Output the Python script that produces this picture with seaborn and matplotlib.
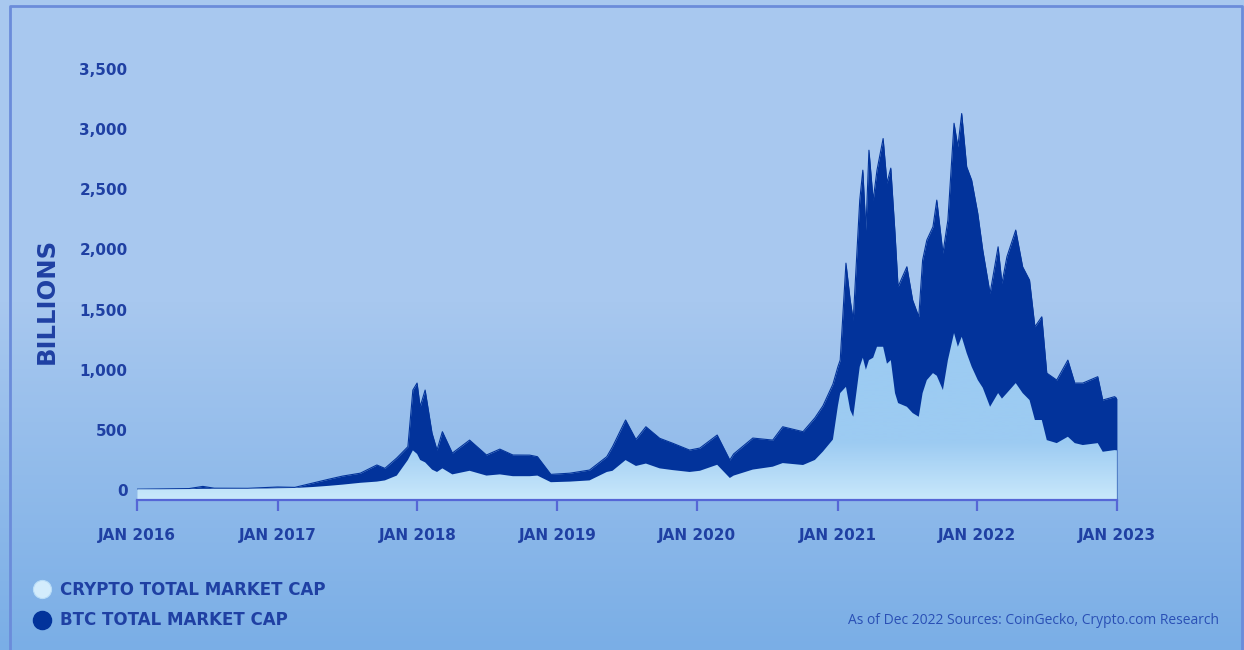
import numpy as np
import pandas as pd
import matplotlib
matplotlib.use("Agg")
import matplotlib.pyplot as plt
import matplotlib.dates as mdates
from matplotlib.colors import LinearSegmentedColormap
from matplotlib.patches import PathPatch
import seaborn as sns

# values in billions
dates = [
    "2016-01-01", "2016-03-01", "2016-05-15", "2016-06-20", "2016-07-20", "2016-10-15",
    "2017-01-01", "2017-02-15", "2017-04-03", "2017-05-15", "2017-06-20", "2017-08-05",
    "2017-09-17", "2017-10-08", "2017-11-08", "2017-12-07", "2017-12-20", "2017-12-31",
    "2018-01-08", "2018-01-21", "2018-02-08", "2018-02-21", "2018-03-07", "2018-04-02",
    "2018-05-17", "2018-06-30", "2018-08-04", "2018-09-07", "2018-10-21", "2018-11-10",
    "2018-12-15", "2019-02-03", "2019-03-26", "2019-05-10", "2019-05-25", "2019-06-28",
    "2019-07-25", "2019-08-20", "2019-09-25", "2019-10-28", "2019-12-12", "2020-01-08",
    "2020-02-22", "2020-03-26", "2020-04-05", "2020-05-25", "2020-07-16", "2020-08-11",
    "2020-10-03", "2020-11-03", "2020-11-24", "2020-12-20", "2021-01-02", "2021-01-08",
    "2021-01-23", "2021-02-03", "2021-02-11", "2021-02-28", "2021-03-08", "2021-03-16",
    "2021-03-24", "2021-04-04", "2021-04-14", "2021-04-30", "2021-05-10", "2021-05-20",
    "2021-05-31", "2021-06-08", "2021-07-01", "2021-07-16", "2021-08-01", "2021-08-11",
    "2021-08-22", "2021-09-07", "2021-09-17", "2021-10-03", "2021-10-16", "2021-11-01",
    "2021-11-11", "2021-11-21", "2021-12-04", "2021-12-17", "2022-01-02", "2022-01-15",
    "2022-02-03", "2022-02-24", "2022-03-06", "2022-03-19", "2022-04-11", "2022-04-29",
    "2022-05-17", "2022-05-31", "2022-06-18", "2022-07-01", "2022-07-27", "2022-08-25",
    "2022-09-12", "2022-10-03", "2022-11-11", "2022-11-24", "2022-12-25", "2022-12-31",
]
# top edge of the dark band
dark_top = [
    7, 9, 12, 30, 15, 14,
    25, 22, 58, 90, 116, 140,
    208, 180, 266, 360, 831, 889,
    692, 831, 473, 332, 485, 307,
    415, 291, 340, 291, 290, 277,
    130, 140, 166, 277, 360, 582,
    420, 526, 430, 390, 332, 349,
    457, 249, 300, 432, 415, 526,
    485, 600, 700, 880, 1025, 1080,
    1886, 1579, 1413, 2410, 2659, 2160,
    2825, 2410, 2659, 2922, 2551, 2676,
    2136, 1690, 1856, 1579, 1440, 1911,
    2078, 2188, 2410, 1969, 2244, 3049,
    2853, 3130, 2687, 2576, 2299, 1994,
    1634, 2022, 1718, 1939, 2161, 1856,
    1745, 1357, 1440, 972, 914, 1080,
    889, 889, 942, 748, 776, 760,
]
# top edge of the light area
light_top = [
    6, 6, 8, 10, 10, 10,
    15, 17, 25, 35, 45, 60,
    70, 80, 120, 250, 330, 300,
    250, 230, 170, 150, 180, 130,
    160, 120, 130, 115, 115, 120,
    65, 70, 80, 150, 160, 249,
    200, 220, 180, 166, 150, 160,
    210, 100, 120, 170, 194, 224,
    208, 250, 320, 420, 700, 806,
    858, 665, 609, 1025, 1100, 1000,
    1080, 1100, 1191, 1191, 1050, 1080,
    806, 723, 692, 640, 609, 806,
    914, 972, 950, 831, 1080, 1305,
    1191, 1274, 1138, 1025, 914, 850,
    692, 806, 760, 806, 889, 806,
    748, 582, 582, 415, 390, 443,
    390, 374, 390, 318, 332, 330,
]

year_ticks = ["2016-01-01", "2017-01-01", "2018-01-01", "2019-01-01",
              "2020-01-01", "2021-01-01", "2022-01-01", "2023-01-01"]
year_labels = ["JAN 2016", "JAN 2017", "JAN 2018", "JAN 2019",
               "JAN 2020", "JAN 2021", "JAN 2022", "JAN 2023"]
y_ticks = [0, 500, 1000, 1500, 2000, 2500, 3000, 3500]
legend_labels = ["CRYPTO TOTAL MARKET CAP", "BTC TOTAL MARKET CAP"]

df = pd.DataFrame({"date": pd.to_datetime(dates), "dark": dark_top, "light": light_top})

sns.set_theme(style="white")
plt.rcParams["font.family"] = ["DejaVu Sans"]

dark = "#02339b"
text_col = "#1f40a3"
axis_col = "#5566d6"
ybot, ytop = -83, 3575

fig = plt.figure(figsize=(12.44, 6.5), dpi=100)

# background in pixel coordinates
bg = fig.add_axes([0, 0, 1, 1], zorder=0)
bg.set_xlim(0, 1244)
bg.set_ylim(650, 0)
bg.axis("off")
grad = np.concatenate([np.zeros(300), np.linspace(0, 1, 350)])[:, None]
bg_cmap = LinearSegmentedColormap.from_list("bg", ["#a8c8ef", "#7aaee6"])
bg.imshow(grad, cmap=bg_cmap, extent=[0, 1244, 650, 0], aspect="auto")
bg.plot([10, 10, 1242, 1242], [660, 6, 6, 660], color="#6b8cda", lw=2)

# main chart
ax = fig.add_axes([137.3 / 1244, 1 - 500 / 650, 980 / 1244, 440 / 650], zorder=1)
ax.patch.set_alpha(0)

ax.fill_between(df["date"], ybot, df["dark"], color=dark, lw=0, zorder=2)
sns.lineplot(data=df, x="date", y="dark", color=dark, lw=0.8, ax=ax, zorder=2)

poly = ax.fill_between(df["date"], ybot, df["light"], color="none", lw=0)
clip = PathPatch(poly.get_paths()[0], transform=ax.transData, facecolor="none", edgecolor="none")
ax.add_patch(clip)
x0 = mdates.date2num(pd.Timestamp("2016-01-01"))
x1 = mdates.date2num(pd.Timestamp("2023-01-01"))
v = np.linspace(1400, ybot, 200)
t = np.clip((400 - v) / (400 - ybot), 0, 1)[:, None]
light_cmap = LinearSegmentedColormap.from_list("light", ["#9ccbf2", "#c9e8fb"])
im = ax.imshow(t, cmap=light_cmap, extent=[x0, x1, ybot, 1400], aspect="auto", zorder=3)
im.set_clip_path(clip)

ax.set_xlim(pd.Timestamp("2016-01-01"), pd.Timestamp("2023-01-01"))
ax.set_ylim(ybot, ytop)
ax.set_xlabel("")
ax.set_ylabel("")

ax.set_xticks(pd.to_datetime(year_ticks))
ax.set_xticklabels(year_labels, fontsize=11, fontweight="bold", color=text_col)
ax.set_yticks(y_ticks)
ax.set_yticklabels([f"{y:,}" for y in y_ticks], fontsize=11, fontweight="bold", color=text_col)
ax.tick_params(axis="x", length=8, width=1.6, color=axis_col, pad=12, direction="out", bottom=True)
ax.tick_params(axis="y", length=0, pad=7)

for s in ["top", "right", "left"]:
    ax.spines[s].set_visible(False)
ax.spines["bottom"].set_color(axis_col)
ax.spines["bottom"].set_linewidth(1.6)
ax.spines["bottom"].set_zorder(4)
ax.grid(False)

# y label and legend
bg.text(47, 301, "BILLIONS", rotation=90, ha="center", va="center",
        fontsize=17.5, fontweight="bold", color=text_col)
bg.scatter([42], [589], s=170, color="#d3ecfc", edgecolors="#b8dcf7", linewidths=0.8, zorder=2)
bg.scatter([42], [620], s=170, color=dark, zorder=2)
bg.text(60, 590, legend_labels[0], ha="left", va="center", fontsize=12,
        fontweight="bold", color=text_col)
bg.text(60, 620, legend_labels[1], ha="left", va="center", fontsize=12,
        fontweight="bold", color=text_col)
bg.text(1219, 621, "As of Dec 2022 Sources: CoinGecko, Crypto.com Research",
        ha="right", va="center", fontsize=10, color="#2a50b5",
        family=["Open Sans", "DejaVu Sans"])

fig.savefig("out.png", dpi=100)
